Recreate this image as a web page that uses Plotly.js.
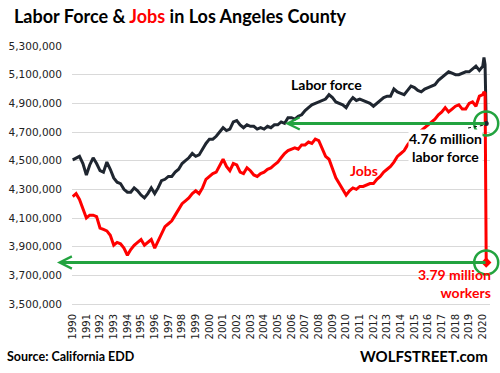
<!DOCTYPE html>
<html>
<head>
<meta charset="utf-8">
<script src="https://cdn.plot.ly/plotly-3.0.1.min.js"></script>
<style>html,body{margin:0;padding:0;background:#fff}#chart{width:500px;height:373px}</style>
</head>
<body>
<div id="chart"></div>
<script>
// Quarterly readings (plus monthly for early 2020)
const dates = [
'1990-01','1990-04','1990-07','1990-10',
'1991-01','1991-04','1991-07','1991-10',
'1992-01','1992-04','1992-07','1992-10',
'1993-01','1993-04','1993-07','1993-10',
'1994-01','1994-04','1994-07','1994-10',
'1995-01','1995-04','1995-07','1995-10',
'1996-01','1996-04','1996-07','1996-10',
'1997-01','1997-04','1997-07','1997-10',
'1998-01','1998-04','1998-07','1998-10',
'1999-01','1999-04','1999-07','1999-10',
'2000-01','2000-04','2000-07','2000-10',
'2001-01','2001-04','2001-07','2001-10',
'2002-01','2002-04','2002-07','2002-10',
'2003-01','2003-04','2003-07','2003-10',
'2004-01','2004-04','2004-07','2004-10',
'2005-01','2005-04','2005-07','2005-10',
'2006-01','2006-04','2006-07','2006-10',
'2007-01','2007-04','2007-07','2007-10',
'2008-01','2008-04','2008-07','2008-10',
'2009-01','2009-04','2009-07','2009-10',
'2010-01','2010-04','2010-07','2010-10',
'2011-01','2011-04','2011-07','2011-10',
'2012-01','2012-04','2012-07','2012-10',
'2013-01','2013-04','2013-07','2013-10',
'2014-01','2014-04','2014-07','2014-10',
'2015-01','2015-04','2015-07','2015-10',
'2016-01','2016-04','2016-07','2016-10',
'2017-01','2017-04','2017-07','2017-10',
'2018-01','2018-04','2018-07','2018-10',
'2019-01','2019-04','2019-07','2019-10',
'2020-01','2020-02','2020-03','2020-04'
];

const laborForce = [
4505000,4520000,4530000,4480000,
4400000,4470000,4520000,4480000,
4430000,4420000,4490000,4440000,
4380000,4350000,4340000,4300000,
4280000,4280000,4310000,4290000,
4260000,4240000,4270000,4310000,
4270000,4310000,4360000,4370000,
4390000,4390000,4420000,4440000,
4480000,4500000,4520000,4550000,
4530000,4540000,4580000,4620000,
4650000,4650000,4670000,4700000,
4730000,4710000,4720000,4770000,
4780000,4750000,4730000,4750000,
4740000,4740000,4720000,4730000,
4720000,4740000,4730000,4750000,
4750000,4770000,4760000,4800000,
4800000,4790000,4810000,4820000,
4850000,4870000,4890000,4900000,
4910000,4920000,4930000,4960000,
4940000,4910000,4900000,4890000,
4870000,4910000,4940000,4920000,
4930000,4920000,4910000,4900000,
4880000,4900000,4920000,4940000,
4950000,4950000,5000000,4980000,
4970000,4960000,4990000,5020000,
5010000,4990000,4980000,5000000,
5010000,5020000,5030000,5060000,
5080000,5100000,5120000,5110000,
5100000,5100000,5110000,5120000,
5120000,5140000,5160000,5130000,
5160000,5220000,5170000,4760000
];

const jobs = [
4250000,4270000,4230000,4170000,
4100000,4120000,4120000,4110000,
4030000,4020000,4010000,3980000,
3910000,3930000,3920000,3890000,
3840000,3880000,3910000,3930000,
3950000,3910000,3930000,3950000,
3890000,3940000,4000000,4040000,
4060000,4080000,4120000,4160000,
4200000,4220000,4240000,4270000,
4290000,4270000,4310000,4370000,
4390000,4410000,4420000,4470000,
4510000,4460000,4430000,4480000,
4470000,4420000,4410000,4450000,
4430000,4400000,4390000,4410000,
4420000,4440000,4450000,4470000,
4490000,4520000,4550000,4570000,
4580000,4590000,4580000,4610000,
4610000,4630000,4620000,4650000,
4640000,4580000,4530000,4510000,
4440000,4380000,4340000,4300000,
4260000,4290000,4310000,4300000,
4320000,4320000,4330000,4340000,
4340000,4370000,4390000,4420000,
4440000,4460000,4490000,4530000,
4550000,4570000,4610000,4640000,
4660000,4680000,4710000,4730000,
4750000,4770000,4790000,4820000,
4840000,4870000,4840000,4860000,
4880000,4890000,4860000,4860000,
4900000,4910000,4880000,4950000,
4960000,4980000,4970000,3790000
];

const tickYears = ['1990','1991','1992','1993','1994','1995','1996','1997','1998','1999',
'2000','2001','2002','2003','2004','2005','2006','2007','2008','2009',
'2010','2011','2012','2013','2014','2015','2016','2017','2018','2019','2020'];

const lastDate = dates[dates.length - 1];
const lastLF = laborForce[laborForce.length - 1];
const lastJobs = jobs[jobs.length - 1];

const GREEN = '#22a33f';
const TXT = 'Lato, "Open Sans", sans-serif';

const traces = [
  {x: dates, y: laborForce, type: 'scatter', mode: 'lines', line: {color: '#1f2630', width: 3}, hoverinfo: 'skip'},
  {x: dates, y: jobs, type: 'scatter', mode: 'lines', line: {color: '#ff0000', width: 3}, hoverinfo: 'skip'},
  {x: [lastDate, lastDate], y: [lastLF, lastJobs], type: 'scatter', mode: 'markers', cliponaxis: false,
   marker: {symbol: 'circle-open', size: 24, color: GREEN, line: {color: GREEN, width: 2.5}}, hoverinfo: 'skip'},
  {x: [lastDate], y: [lastJobs], type: 'scatter', mode: 'markers', cliponaxis: false,
   marker: {symbol: 'diamond', size: 8, color: '#ff0000'}, hoverinfo: 'skip'},
  {x: [lastDate], y: [lastLF], type: 'scatter', mode: 'markers', cliponaxis: false,
   marker: {symbol: 'circle', size: 5, color: '#1f2630'}, hoverinfo: 'skip'}
];

const layout = {
  width: 500, height: 373,
  margin: {l: 72, r: 10, t: 46, b: 69},
  paper_bgcolor: '#fff', plot_bgcolor: '#fff',
  showlegend: false,
  title: {
    text: '<b>Labor Force & <span style="color:#ff0000">Jobs</span> in Los Angeles County</b>',
    font: {family: TXT, size: 18, color: '#000'},
    x: 14/500, xanchor: 'left', xref: 'container',
    y: 1 - 17/373, yanchor: 'middle', yref: 'container'
  },
  xaxis: {
    type: 'date',
    range: ['1989-12-13', '2020-07-11'],
    tickmode: 'array',
    tickvals: tickYears.map(y => y + '-01-01'),
    ticktext: tickYears,
    tickangle: -90,
    tickfont: {family: 'DejaVu Sans', size: 10, color: '#222'},
    showgrid: false, zeroline: false,
    showline: true, linecolor: '#d9d9d9', linewidth: 1,
    ticks: '', ticklabelstandoff: 5
  },
  yaxis: {
    range: [3500000, 5300000],
    tick0: 3500000, dtick: 200000,
    tickformat: ',d',
    tickfont: {family: 'DejaVu Sans', size: 10.5, color: '#222'},
    gridcolor: '#d9d9d9', gridwidth: 1,
    zeroline: false, showline: false, ticks: '',
    ticklabelstandoff: 9
  },
  shapes: [
    {type: 'line', xref: 'paper', yref: 'paper',
     x0: (468-72)/418, y0: (304-128)/258, x1: (485-72)/418, y1: (304-125)/258,
     line: {color: '#000', width: 1, dash: 'dot'}}
  ],
  annotations: [
    // green arrows
    {xref: 'x', yref: 'y', x: '2005-07-10', y: lastLF, axref: 'x', ayref: 'y', ax: lastDate, ay: lastLF,
     showarrow: true, arrowhead: 5, arrowsize: 0.8, arrowwidth: 3, arrowcolor: GREEN, standoff: 0, startstandoff: 0, text: ''},
    {xref: 'paper', yref: 'y', x: (57-72)/418, y: lastJobs, axref: 'pixel', ayref: 'pixel', ax: 430, ay: 0,
     showarrow: true, arrowhead: 5, arrowsize: 0.8, arrowwidth: 3, arrowcolor: GREEN, standoff: 0, startstandoff: 0, text: ''},
    {xref: 'paper', yref: 'paper', x: (326-72)/418, y: (304-84.5)/258, xanchor: 'center', yanchor: 'middle', showarrow: false,
     text: '<b>Labor force</b>', font: {family: TXT, size: 14, color: '#000'}},
    {xref: 'paper', yref: 'paper', x: (364-72)/418, y: (304-170)/258, xanchor: 'center', yanchor: 'middle', showarrow: false,
     text: '<b>Jobs</b>', font: {family: TXT, size: 14, color: '#ff0000'}},
    {xref: 'paper', yref: 'paper', x: (445-72)/418, y: (304-147.5)/258, xanchor: 'center', yanchor: 'middle', showarrow: false,
     align: 'center', text: '<b>4.76 million<br>labor force</b>', bgcolor: '#fff', borderpad: 0,
     font: {family: TXT, size: 14, color: '#000'}},
    {xref: 'paper', yref: 'paper', x: (493-72)/418, y: (304-283)/258, xanchor: 'right', yanchor: 'middle', showarrow: false,
     align: 'right', text: '<b>3.79 million<br>workers</b>', font: {family: TXT, size: 14, color: '#ff0000'}},
    {xref: 'paper', yref: 'paper', x: (5-72)/418, y: (304-356)/258, xanchor: 'left', yanchor: 'middle', showarrow: false,
     text: '<b>Source: California EDD</b>', font: {family: TXT, size: 12.5, color: '#000'}},
    {xref: 'paper', yref: 'paper', x: (490-72)/418, y: (304-356)/258, xanchor: 'right', yanchor: 'middle', showarrow: false,
     text: '<b>WOLFSTREET.com</b>', font: {family: TXT, size: 15, color: '#000'}}
  ]
};

Plotly.newPlot('chart', traces, layout, {staticPlot: true, displayModeBar: false});
</script>
</body>
</html>
